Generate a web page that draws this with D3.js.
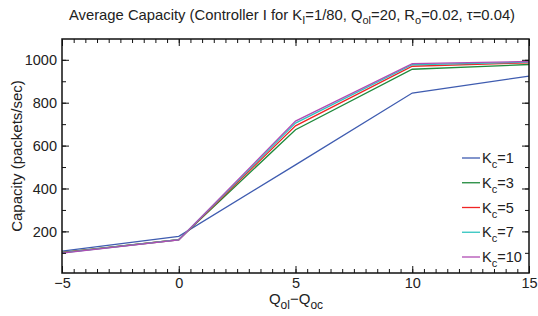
<!DOCTYPE html>
<html>
<head>
<meta charset="utf-8">
<script src="https://cdn.jsdelivr.net/npm/d3@7"></script>
<style>
  body { margin: 0; background: #fff; }
  text { font-family: "Liberation Sans", Arial, sans-serif; fill: #222; }
</style>
</head>
<body>
<div id="chart"></div>
<script>
const kWidth = 538;
const kHeight = 316;
const kMargin = {left: 62, right: 9, top: 39, bottom: 43};

const xValues = [-5, 0, 5, 10, 15];
const seriesNames = ["1", "3", "5", "7", "10"];
const seriesColors = ["#3f5cb0", "#1f8a3c", "#f02424", "#2fc4c0", "#b04cb4"];
const kc1 = [108, 177, 510, 845, 924];
const kc3 = [102, 162, 674, 956, 978];
const kc5 = [101, 161, 692, 970, 986];
const kc7 = [100, 161, 705, 977, 989];
const kc10 = [99, 160, 714, 982, 992];
const xTicks = [-5, 0, 5, 10, 15];
const yTicks = [200, 400, 600, 800, 1000];

const allSeries = [kc1, kc3, kc5, kc7, kc10];

const svg = d3.select("#chart")
  .append("svg")
  .attr("width", kWidth)
  .attr("height", kHeight);

const xScale = d3.scaleLinear()
  .domain([-5, 15])
  .range([kMargin.left, kWidth - kMargin.right]);

const yScale = d3.scaleLinear()
  .domain([6, 1097])
  .range([kHeight - kMargin.bottom, kMargin.top]);

const x0 = xScale.range()[0], x1 = xScale.range()[1];
const y0 = yScale.range()[0], y1 = yScale.range()[1];

// lines first, frame on top
const line = d3.line()
  .x((d, i) => xScale(xValues[i]))
  .y(d => yScale(d));

allSeries.forEach((s, i) => {
  svg.append("path")
    .datum(s)
    .attr("d", line)
    .attr("fill", "none")
    .attr("stroke", seriesColors[i])
    .attr("stroke-width", 1.3);
});

// minor + major ticks, inward on all four sides
const xMinor = d3.range(-5, 15.01, 0.5);
const yMinor = d3.range(100, 1001, 100);

const xb = d3.axisBottom(xScale).tickValues(xMinor).tickSizeInner(-4).tickSizeOuter(0).tickFormat("");
const xt = d3.axisTop(xScale).tickValues(xMinor).tickSizeInner(-4).tickSizeOuter(0).tickFormat("");
const yl = d3.axisLeft(yScale).tickValues(yMinor).tickSizeInner(-4).tickSizeOuter(0).tickFormat("");
const yr = d3.axisRight(yScale).tickValues(yMinor).tickSizeInner(-4).tickSizeOuter(0).tickFormat("");

svg.append("g").attr("transform", `translate(0,${y0})`).call(xb);
svg.append("g").attr("transform", `translate(0,${y1})`).call(xt);
svg.append("g").attr("transform", `translate(${x0},0)`).call(yl);
svg.append("g").attr("transform", `translate(${x1},0)`).call(yr);

// major ticks a bit longer
svg.append("g").attr("transform", `translate(0,${y0})`)
  .call(d3.axisBottom(xScale).tickValues(xTicks).tickSizeInner(-7).tickSizeOuter(0)
    .tickFormat(d => d < 0 ? "\u2212" + Math.abs(d) : d))
  .call(g => g.selectAll("text").attr("y", 5).attr("dy", "0.71em").style("font-size", "14.5px"));
svg.append("g").attr("transform", `translate(0,${y1})`)
  .call(d3.axisTop(xScale).tickValues(xTicks).tickSizeInner(-7).tickSizeOuter(0).tickFormat(""));
svg.append("g").attr("transform", `translate(${x0},0)`)
  .call(d3.axisLeft(yScale).tickValues(yTicks).tickSizeInner(-7).tickSizeOuter(0).tickFormat(d3.format("d")))
  .call(g => g.selectAll("text").attr("x", -5).style("font-size", "14.5px"));
svg.append("g").attr("transform", `translate(${x1},0)`)
  .call(d3.axisRight(yScale).tickValues(yTicks).tickSizeInner(-7).tickSizeOuter(0).tickFormat(""));

svg.selectAll(".domain").remove();
svg.selectAll(".tick line").attr("stroke", "#111");

svg.append("rect")
  .attr("x", x0).attr("y", y1)
  .attr("width", x1 - x0).attr("height", y0 - y1)
  .attr("fill", "none")
  .attr("stroke", "#111")
  .attr("stroke-width", 1.5);

// title
const title = svg.append("text")
  .attr("x", 292)
  .attr("y", 20)
  .attr("text-anchor", "middle")
  .style("font-size", "14.8px");
title.append("tspan").text("Average Capacity (Controller I for K");
title.append("tspan").attr("dy", 4).style("font-size", "11px").text("I");
title.append("tspan").attr("dy", -4).text("=1/80, Q");
title.append("tspan").attr("dy", 4).style("font-size", "11px").text("ol");
title.append("tspan").attr("dy", -4).text("=20, R");
title.append("tspan").attr("dy", 4).style("font-size", "11px").text("o");
title.append("tspan").attr("dy", -4).text("=0.02, \u03c4=0.04)");

// x label
const xl = svg.append("text")
  .attr("x", 296)
  .attr("y", 304)
  .attr("text-anchor", "middle")
  .style("font-size", "15px");
xl.append("tspan").text("Q");
xl.append("tspan").attr("dy", 5).style("font-size", "12px").text("ol");
xl.append("tspan").attr("dy", -5).text("\u2212Q");
xl.append("tspan").attr("dy", 5).style("font-size", "12px").text("oc");

// y label
svg.append("text")
  .attr("transform", `translate(22,${(y0 + y1) / 2}) rotate(-90)`)
  .attr("text-anchor", "middle")
  .style("font-size", "15px")
  .text("Capacity (packets/sec)");

// legend
const legend = svg.append("g");
const legendY = d3.scaleLinear().domain([0, 4]).range([158, 257]);
seriesNames.forEach((name, i) => {
  const y = legendY(i);
  legend.append("line")
    .attr("x1", 462).attr("x2", 480)
    .attr("y1", y).attr("y2", y)
    .attr("stroke", seriesColors[i])
    .attr("stroke-width", 1.3);
  const t = legend.append("text")
    .attr("x", 482)
    .attr("y", y + 5)
    .style("font-size", "14.5px");
  t.append("tspan").text("K");
  t.append("tspan").attr("dy", 5).style("font-size", "11px").text("c");
  t.append("tspan").attr("dy", -5).text("=" + name);
});
</script>
</body>
</html>
